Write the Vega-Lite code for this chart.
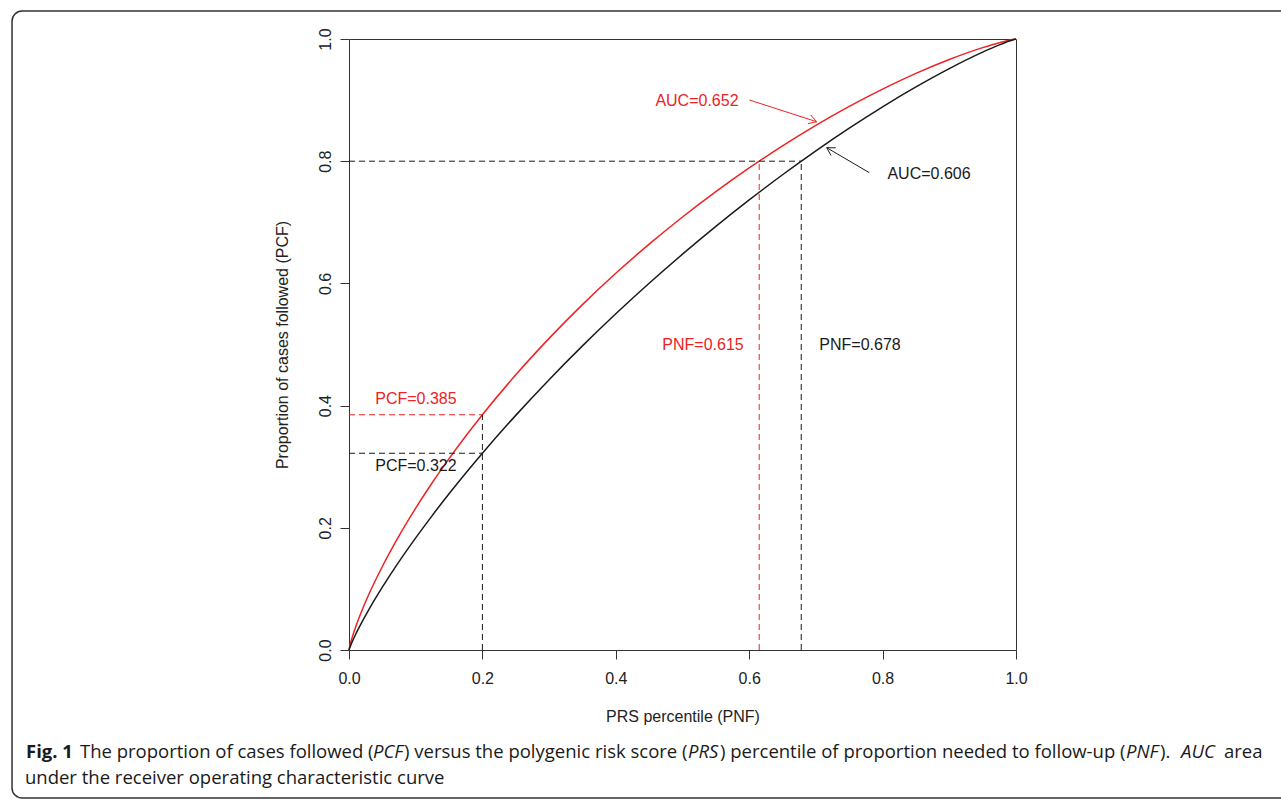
{
  "$schema": "https://vega.github.io/schema/vega-lite/v6.json",
  "width": 667,
  "height": 611,
  "autosize": {"type": "none"},
  "padding": {"left": 349, "top": 39, "right": 265, "bottom": 149},
  "background": "white",
  "config": {
    "view": {"stroke": "#333", "strokeWidth": 1},
    "axis": {
      "grid": false,
      "domain": false,
      "labelFlush": false,
      "tickColor": "#333",
      "tickSize": 9,
      "labelFont": "Liberation Sans",
      "labelFontSize": 16,
      "labelColor": "#222",
      "titleFont": "Liberation Sans",
      "titleFontSize": 16,
      "titleFontWeight": "normal",
      "titleColor": "#222"
    }
  },
  "datasets": {
    "curves": [
      {"c": "red", "x": 0, "y": 0},
      {"c": "red", "x": 0.001, "y": 0.0055},
      {"c": "red", "x": 0.0025, "y": 0.012},
      {"c": "red", "x": 0.005, "y": 0.0214},
      {"c": "red", "x": 0.01, "y": 0.0378},
      {"c": "red", "x": 0.02, "y": 0.0663},
      {"c": "red", "x": 0.03, "y": 0.0916},
      {"c": "red", "x": 0.05, "y": 0.1367},
      {"c": "red", "x": 0.075, "y": 0.1868},
      {"c": "red", "x": 0.1, "y": 0.2321},
      {"c": "red", "x": 0.125, "y": 0.2741},
      {"c": "red", "x": 0.15, "y": 0.3132},
      {"c": "red", "x": 0.2, "y": 0.3851},
      {"c": "red", "x": 0.25, "y": 0.4503},
      {"c": "red", "x": 0.3, "y": 0.51},
      {"c": "red", "x": 0.35, "y": 0.5653},
      {"c": "red", "x": 0.4, "y": 0.6165},
      {"c": "red", "x": 0.45, "y": 0.6642},
      {"c": "red", "x": 0.5, "y": 0.7087},
      {"c": "red", "x": 0.55, "y": 0.7502},
      {"c": "red", "x": 0.6, "y": 0.7889},
      {"c": "red", "x": 0.65, "y": 0.8251},
      {"c": "red", "x": 0.7, "y": 0.8586},
      {"c": "red", "x": 0.75, "y": 0.8896},
      {"c": "red", "x": 0.8, "y": 0.9179},
      {"c": "red", "x": 0.85, "y": 0.9437},
      {"c": "red", "x": 0.9, "y": 0.9665},
      {"c": "red", "x": 0.95, "y": 0.9859},
      {"c": "red", "x": 0.975, "y": 0.994},
      {"c": "red", "x": 0.99, "y": 0.998},
      {"c": "red", "x": 0.995, "y": 0.9991},
      {"c": "red", "x": 1, "y": 1},
      {"c": "black", "x": 0, "y": 0},
      {"c": "black", "x": 0.001, "y": 0.0034},
      {"c": "black", "x": 0.0025, "y": 0.0076},
      {"c": "black", "x": 0.005, "y": 0.014},
      {"c": "black", "x": 0.01, "y": 0.0258},
      {"c": "black", "x": 0.02, "y": 0.047},
      {"c": "black", "x": 0.03, "y": 0.0666},
      {"c": "black", "x": 0.05, "y": 0.1028},
      {"c": "black", "x": 0.075, "y": 0.1446},
      {"c": "black", "x": 0.1, "y": 0.1835},
      {"c": "black", "x": 0.125, "y": 0.2204},
      {"c": "black", "x": 0.15, "y": 0.2556},
      {"c": "black", "x": 0.2, "y": 0.322},
      {"c": "black", "x": 0.25, "y": 0.384},
      {"c": "black", "x": 0.3, "y": 0.4424},
      {"c": "black", "x": 0.35, "y": 0.4977},
      {"c": "black", "x": 0.4, "y": 0.5502},
      {"c": "black", "x": 0.45, "y": 0.6002},
      {"c": "black", "x": 0.5, "y": 0.6478},
      {"c": "black", "x": 0.55, "y": 0.6933},
      {"c": "black", "x": 0.6, "y": 0.7366},
      {"c": "black", "x": 0.65, "y": 0.7778},
      {"c": "black", "x": 0.7, "y": 0.8169},
      {"c": "black", "x": 0.75, "y": 0.854},
      {"c": "black", "x": 0.8, "y": 0.889},
      {"c": "black", "x": 0.85, "y": 0.9216},
      {"c": "black", "x": 0.9, "y": 0.9516},
      {"c": "black", "x": 0.95, "y": 0.9785},
      {"c": "black", "x": 0.975, "y": 0.9903},
      {"c": "black", "x": 0.99, "y": 0.9966},
      {"c": "black", "x": 0.995, "y": 0.9984},
      {"c": "black", "x": 1, "y": 1}
    ],
    "dashes": [
      {"c": "red", "x": 0, "y": 0.385, "x2": 0.2, "y2": 0.385},
      {"c": "red", "x": 0.615, "y": 0, "x2": 0.615, "y2": 0.8},
      {"c": "black", "x": 0, "y": 0.322, "x2": 0.2, "y2": 0.322},
      {"c": "black", "x": 0.2, "y": 0, "x2": 0.2, "y2": 0.385},
      {"c": "black", "x": 0.678, "y": 0, "x2": 0.678, "y2": 0.8},
      {"c": "black", "x": 0, "y": 0.8, "x2": 0.678, "y2": 0.8}
    ],
    "arrows": [
      {"c": "red", "x": 0.6002, "y": 0.9002, "x2": 0.7012, "y2": 0.8646},
      {"c": "red", "x": 0.7012, "y": 0.8646, "x2": 0.6922, "y2": 0.8756},
      {"c": "red", "x": 0.7012, "y": 0.8646, "x2": 0.688, "y2": 0.8615},
      {"c": "black", "x": 0.7801, "y": 0.7812, "x2": 0.7162, "y2": 0.8221},
      {"c": "black", "x": 0.7162, "y": 0.8221, "x2": 0.7228, "y2": 0.8093},
      {"c": "black", "x": 0.7162, "y": 0.8221, "x2": 0.7297, "y2": 0.8219}
    ],
    "labels": [
      {"c": "red", "x": 0.5217, "y": 0.8985, "t": "AUC=0.652"},
      {"c": "black", "x": 0.8696, "y": 0.779, "t": "AUC=0.606"},
      {"c": "red", "x": 0.5307, "y": 0.4992, "t": "PNF=0.615"},
      {"c": "black", "x": 0.7661, "y": 0.4992, "t": "PNF=0.678"},
      {"c": "red", "x": 0.1004, "y": 0.4108, "t": "PCF=0.385"},
      {"c": "black", "x": 0.1004, "y": 0.3011, "t": "PCF=0.322"}
    ],
    "frame": [
      {"x": -0.5052, "y": 1.0458, "x2": 1.4258, "y2": -0.2422}
    ],
    "capBold": [
      {"x": -0.4843, "y": -0.1768, "t": "Fig. 1"}
    ],
    "capItalic": [
      {"x": 0.036, "y": -0.1768, "t": "PCF"},
      {"x": 0.5082, "y": -0.1768, "t": "PRS"},
      {"x": 1.165, "y": -0.1768, "t": "PNF"},
      {"x": 1.2474, "y": -0.1768, "t": "AUC"}
    ],
    "capRegular": [
      {"x": -0.4033, "y": -0.1768, "t": "The proportion of cases followed ("},
      {"x": 0.0825, "y": -0.1768, "t": ") versus the polygenic risk score ("},
      {"x": 0.5562, "y": -0.1768, "t": ") percentile of proportion needed to follow-up ("},
      {"x": 1.216, "y": -0.1768, "t": ")."},
      {"x": 1.3118, "y": -0.1768, "t": "area"},
      {"x": -0.4858, "y": -0.2193, "t": "under the receiver operating characteristic curve"}
    ]
  },
  "encoding": {
    "x": {
      "field": "x",
      "type": "quantitative",
      "scale": {"domain": [0, 1], "nice": false, "zero": false},
      "axis": {
        "values": [0, 0.2, 0.4, 0.6, 0.8, 1],
        "format": ".1f",
        "title": "PRS percentile (PNF)",
        "labelPadding": 11,
        "titlePadding": 22
      }
    },
    "y": {
      "field": "y",
      "type": "quantitative",
      "scale": {"domain": [0, 1], "nice": false, "zero": false},
      "axis": {
        "values": [0, 0.2, 0.4, 0.6, 0.8, 1],
        "format": ".1f",
        "title": "Proportion of cases followed (PCF)",
        "labelAngle": 270,
        "labelAlign": "center",
        "labelBaseline": "alphabetic",
        "labelPadding": 10,
        "titlePadding": 27
      }
    },
    "color": {
      "field": "c",
      "type": "nominal",
      "scale": {"domain": ["red", "black"], "range": ["#ee2222", "#1a1a1a"]},
      "legend": null
    }
  },
  "layer": [
    {
      "data": {"name": "curves"},
      "mark": {"type": "line", "strokeWidth": 1.5, "interpolate": "monotone", "clip": false}
    },
    {
      "data": {"name": "dashes"},
      "mark": {"type": "rule", "strokeWidth": 1, "strokeDash": [6, 4], "clip": false},
      "encoding": {"x2": {"field": "x2"}, "y2": {"field": "y2"}}
    },
    {
      "data": {"name": "arrows"},
      "mark": {"type": "rule", "strokeWidth": 1, "clip": false},
      "encoding": {"x2": {"field": "x2"}, "y2": {"field": "y2"}}
    },
    {
      "data": {"name": "labels"},
      "mark": {"type": "text", "font": "Liberation Sans", "fontSize": 16, "align": "center", "baseline": "middle", "clip": false},
      "encoding": {"text": {"field": "t"}}
    },
    {
      "data": {"name": "frame"},
      "mark": {"type": "rect", "filled": false, "cornerRadius": 10, "strokeWidth": 1.5, "clip": false},
      "encoding": {"x2": {"field": "x2"}, "y2": {"field": "y2"}, "color": {"value": "#333"}}
    },
    {
      "data": {"name": "capBold"},
      "mark": {"type": "text", "font": "Open Sans", "fontSize": 18.5, "fontWeight": "bold", "align": "left", "baseline": "alphabetic", "clip": false},
      "encoding": {"text": {"field": "t"}, "color": {"value": "#1a1a1a"}}
    },
    {
      "data": {"name": "capItalic"},
      "mark": {"type": "text", "font": "Open Sans", "fontSize": 18.5, "fontStyle": "italic", "align": "left", "baseline": "alphabetic", "clip": false},
      "encoding": {"text": {"field": "t"}, "color": {"value": "#1a1a1a"}}
    },
    {
      "data": {"name": "capRegular"},
      "mark": {"type": "text", "font": "Open Sans", "fontSize": 18.5, "align": "left", "baseline": "alphabetic", "clip": false},
      "encoding": {"text": {"field": "t"}, "color": {"value": "#1a1a1a"}}
    }
  ]
}
